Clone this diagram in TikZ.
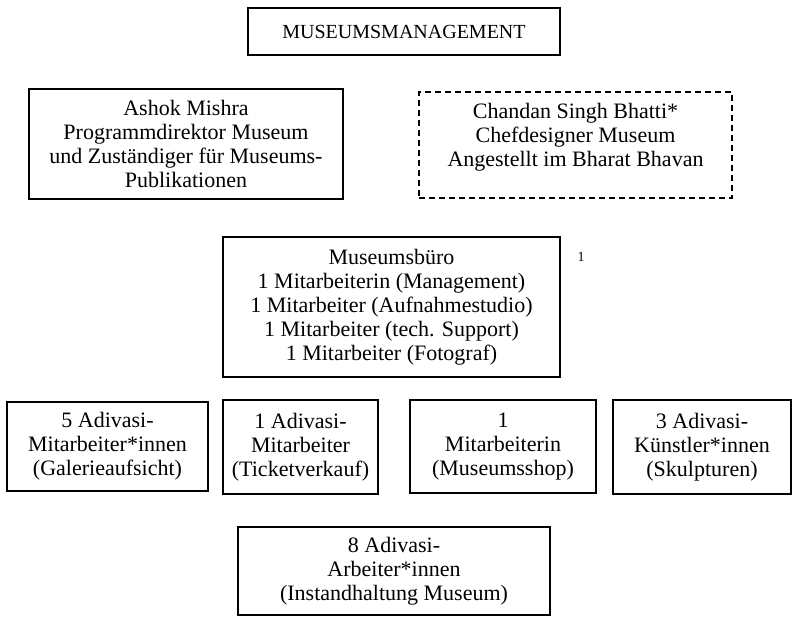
\documentclass[tikz,border=0pt]{standalone}
\usepackage{fontspec}
\setmainfont{Liberation Serif}
\usepackage{tikz}
\usetikzlibrary{positioning}

\begin{document}
\begin{tikzpicture}[
        x=1pt,
        y=-1pt,
        block/.style={
            rectangle,
            draw,
            line width=1.4pt,
            fill=white,
            align=center,
            inner sep=0pt,
            font=\fontsize{22}{24}\selectfont
        },
        ]

        \useasboundingbox (0,0) rectangle (793,619);

        \node [block,font=\fontsize{20}{24}\selectfont,minimum width=312,minimum height=47] (management) at (404,31.5) {MUSEUMSMANAGEMENT};
        \node [block,minimum width=314,minimum height=110] (mishra) at (186,144) {Ashok Mishra\\Programmdirektor Museum\\und Zuständiger für Museums-\\Publikationen};
        \node [block,dash pattern=on 6pt off 4pt,minimum width=313,minimum height=106,text depth=20] (bhatti) at (575.5,145) {Chandan Singh Bhatti*\\Chefdesigner Museum\\Angestellt im Bharat Bhavan};
        \node [block,minimum width=337,minimum height=140] (buero) at (391.5,307) {Museumsbüro\\1 Mitarbeiterin (Management)\\1 Mitarbeiter (Aufnahmestudio)\\1 Mitarbeiter (tech. Support)\\1 Mitarbeiter (Fotograf)};
        \node [font=\fontsize{14}{16}\selectfont] (footnote) at (581,257) {1};
        \node [block,minimum width=201,minimum height=89] (galerie) at (107.5,446.5) {5 Adivasi-\\Mitarbeiter*innen\\(Galerieaufsicht)};
        \node [block,minimum width=155,minimum height=94] (ticket) at (300.5,447) {1 Adivasi-\\Mitarbeiter\\(Ticketverkauf)};
        \node [block,minimum width=186,minimum height=93] (shop) at (503,446.5) {1\\Mitarbeiterin\\(Museumsshop)};
        \node [block,minimum width=178,minimum height=94] (kuenstler) at (702,447) {3 Adivasi-\\Künstler*innen\\(Skulpturen)};
        \node [block,minimum width=312,minimum height=88] (instand) at (394,571) {8 Adivasi-\\Arbeiter*innen\\(Instandhaltung Museum)};
    \end{tikzpicture}
\end{document}
